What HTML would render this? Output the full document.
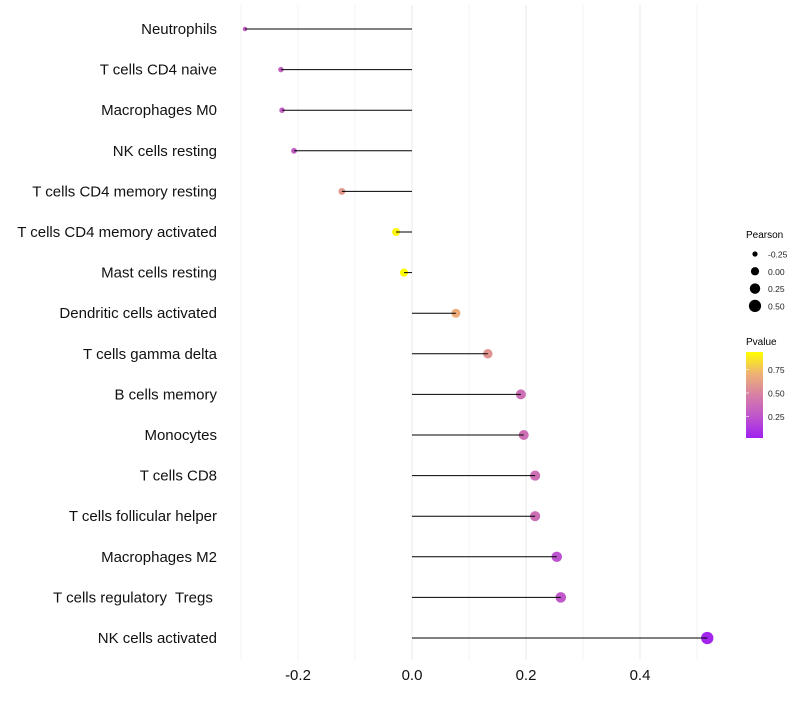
<!DOCTYPE html>
<html><head><meta charset="utf-8"><style>
body{margin:0;background:#fff;}
svg text{font-family:"Liberation Sans",sans-serif;white-space:pre;}
</style></head><body>
<svg id="chart" width="800" height="700" xmlns="http://www.w3.org/2000/svg">
<g id="grid"></g>
<g id="marks"></g>
<g id="stems"></g>
<g id="ylab"></g>
<g id="xlab"></g>
<g id="legend"></g>
</svg>
<script>
const categories=["Neutrophils","T cells CD4 naive","Macrophages M0","NK cells resting","T cells CD4 memory resting","T cells CD4 memory activated","Mast cells resting","Dendritic cells activated","T cells gamma delta","B cells memory","Monocytes","T cells CD8","T cells follicular helper","Macrophages M2","T cells regulatory  Tregs ","NK cells activated"];
const pearson=[-0.293,-0.230,-0.228,-0.207,-0.123,-0.028,-0.014,0.077,0.133,0.191,0.196,0.216,0.216,0.254,0.261,0.518];
const pvalue=[0.30,0.32,0.30,0.30,0.62,0.97,0.99,0.72,0.60,0.40,0.40,0.40,0.40,0.24,0.27,0.02];
const xTicks=[-0.2,0.0,0.2,0.4];
const sizeLegend=[-0.25,0.00,0.25,0.50];
const pTicks=[0.25,0.50,0.75];
const NS="http://www.w3.org/2000/svg";
const x=v=>412+v*570;
const y=i=>29+i*40.6;
const r=v=>Math.sqrt(Math.max(2.5,17+41*v));
function lerp(a,b,t){return a+(b-a)*t;}
function col(p){
  const s=[[0,[160,32,240]],[0.25,[190,85,205]],[0.5,[215,128,165]],[0.75,[238,178,115]],[1,[255,255,0]]];
  let i=Math.min(3,Math.floor(p/0.25));const a=s[i],b=s[i+1];const t=(p-a[0])/(b[0]-a[0]);
  return `rgb(${[0,1,2].map(k=>Math.round(lerp(a[1][k],b[1][k],t))).join(',')})`;
}
function mk(tag,attrs,parent){const e=document.createElementNS(NS,tag);for(const k in attrs)e.setAttribute(k,attrs[k]);document.getElementById(parent).appendChild(e);return e;}
for(let v=-0.3;v<=0.5001;v+=0.1){
  const l=mk('line',{x1:x(v),x2:x(v),y1:5,y2:660,stroke:'#ebebeb','stroke-width':Math.abs((v*10)%2)>0.5?0.6:1.1},'grid');
  
  
}
categories.forEach((c,i)=>{
  const pt=mk('circle',{cx:x(pearson[i]),cy:y(i),r:r(pearson[i]),fill:col(pvalue[i])},'marks');
  
  
  const ln=mk('line',{x1:x(0),x2:x(pearson[i]),y1:y(i),y2:y(i),stroke:'#000','stroke-width':1},'stems');
  
  
  const t=mk('text',{x:217,y:y(i)+5,'text-anchor':'end','font-size':15,fill:'#111'},'ylab');
  t.textContent=c;
  
  
});
xTicks.forEach(v=>{
  const t=mk('text',{x:x(v),y:680,'text-anchor':'middle','font-size':15,fill:'#111'},'xlab');
  t.textContent=v.toFixed(1);
  
  
});
let t=mk('text',{x:746,y:238,'font-size':10,fill:'#000'},'legend');t.textContent='Pearson';


sizeLegend.forEach((v,i)=>{
  const cy=254+i*17.3;
  const c=mk('circle',{cx:755,cy:cy,r:r(v),fill:'#000'},'legend');
  
  
  const tt=mk('text',{x:768,y:cy+3.5,'font-size':8.5,fill:'#222'},'legend');tt.textContent=v.toFixed(2);
  
  
});
t=mk('text',{x:746,y:345,'font-size':10,fill:'#000'},'legend');t.textContent='Pvalue';


const defs=mk('defs',{},'legend');
const g=document.createElementNS(NS,'linearGradient');g.setAttribute('id','pg');g.setAttribute('x1',0);g.setAttribute('x2',0);g.setAttribute('y1',1);g.setAttribute('y2',0);defs.appendChild(g);
[0,0.25,0.5,0.75,1].forEach(o=>{const s=document.createElementNS(NS,'stop');s.setAttribute('offset',o);s.setAttribute('stop-color',col(o));g.appendChild(s);});
const pY=p=>440-p*94;
const bar=mk('rect',{x:746,y:352,width:17,height:86,fill:'url(#pg)'},'legend');


pTicks.forEach(p=>{
  const tt=mk('text',{x:768,y:pY(p)+3.5,'font-size':8.5,fill:'#222'},'legend');tt.textContent=p.toFixed(2);
  
  
  const l=mk('line',{x1:746,x2:749,y1:pY(p),y2:pY(p),stroke:'#fff','stroke-width':0.6},'legend');
  
  
});
</script>
</body></html>
